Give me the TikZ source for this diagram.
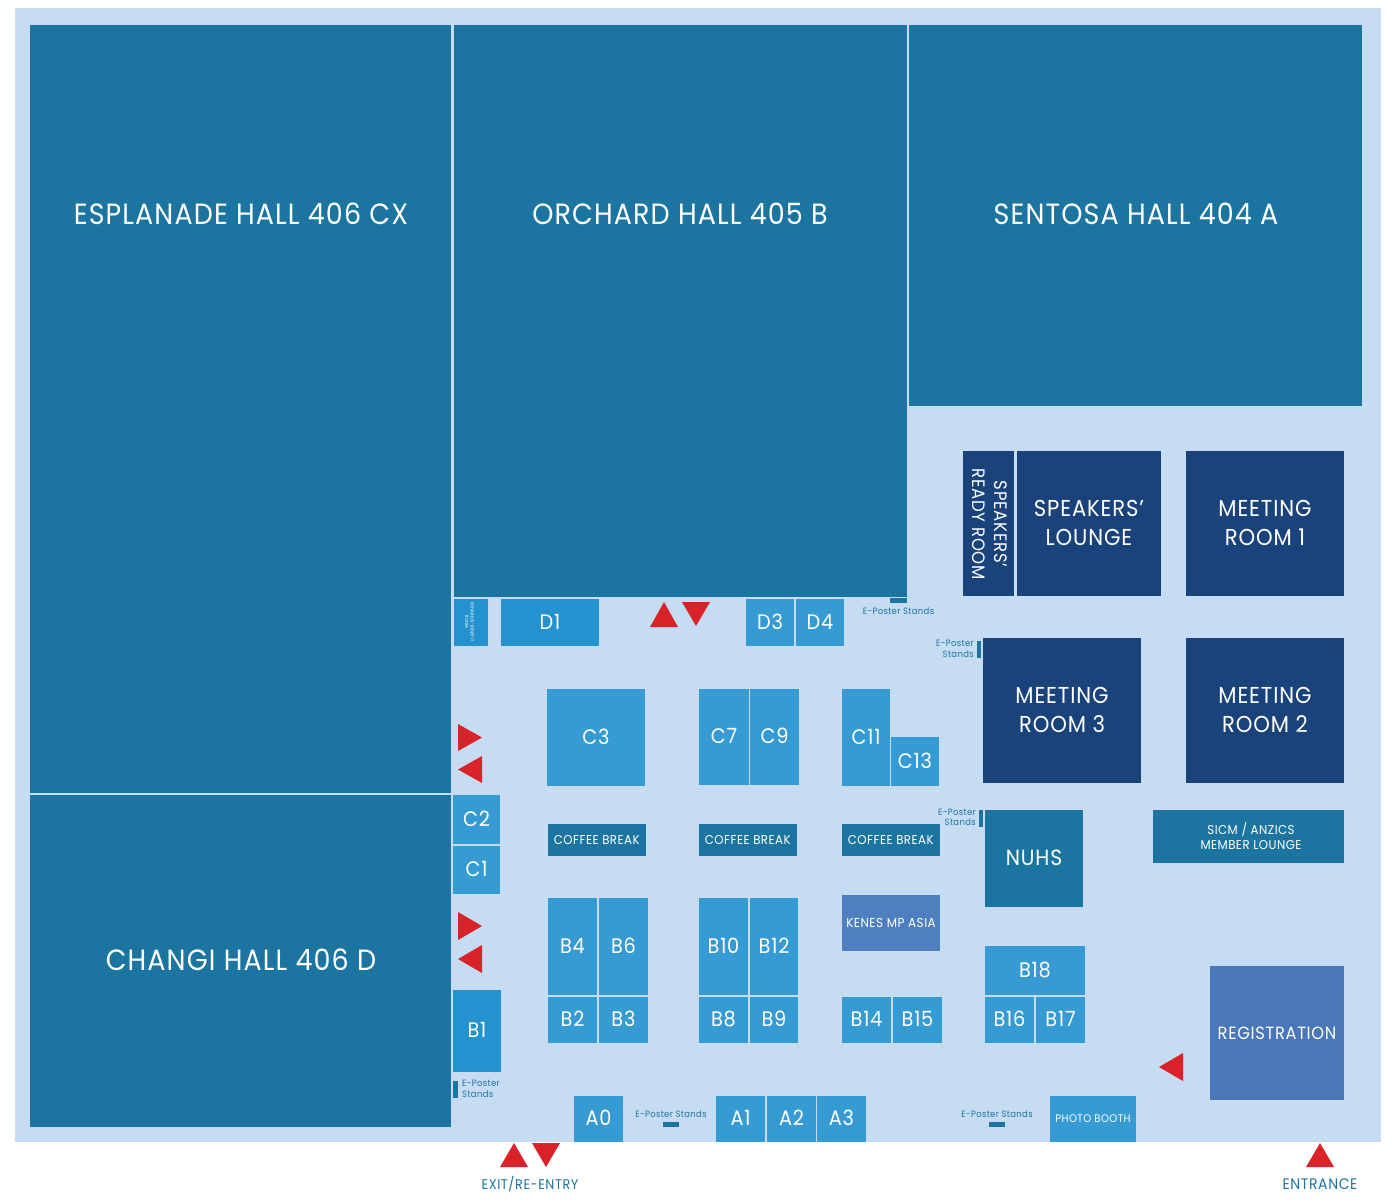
\documentclass[tikz,border=0pt]{standalone}
\usepackage{fontspec}
\setmainfont[FakeStretch=0.92,LetterSpace=3.8]{Poppins}
\definecolor{floorbg}{HTML}{C6DCF2}
\definecolor{hall}{HTML}{1C75A0}
\definecolor{navy}{HTML}{1A437B}
\definecolor{boothA}{HTML}{359BD2}
\definecolor{boothB}{HTML}{2392CE}
\definecolor{regblue}{HTML}{4A76BA}
\definecolor{kenes}{HTML}{4E80C0}
\definecolor{redtri}{HTML}{D9222A}
\newcommand{\fs}[1]{\fontsize{#1}{#1}\selectfont}
% \Rm{name}{x0}{y0}{x1}{y1}{style}{text}
\newcommand{\Rm}[7]{%
  \pgfmathsetmacro{\cxx}{(#2+#4)/2}\pgfmathsetmacro{\cyy}{(#3+#5)/2}%
  \pgfmathsetmacro{\wdd}{#4-#2}\pgfmathsetmacro{\htt}{#5-#3}%
  \node[#6,minimum width=\wdd pt,minimum height=\htt pt] (#1) at (\cxx,\cyy) {#7};}
\newcommand{\Tri}[6]{\fill[redtri] (#1,#2) -- (#3,#4) -- (#5,#6) -- cycle;}
\tikzset{
  room/.style={inner sep=0pt,outer sep=0pt,text=white,align=center},
  hallroom/.style={room,fill=hall},
  navyroom/.style={room,fill=navy,font=\fs{23}},
  boothroom/.style={room,fill=boothA,font=\fs{21},text depth=2pt},
  boothdark/.style={room,fill=boothB,font=\fs{21},text depth=2pt},
  coffee/.style={room,fill=hall,font=\fs{12.8}},
  posterbar/.style={fill=hall},
  postertext/.style={inner sep=0pt,text=hall,font=\fs{9.2},align=center},
  doorlabel/.style={inner sep=0pt,text=hall,font=\fs{14}},
  halltitle/.style={inner sep=0pt,text=white,font=\fs{29.3}},
}
\begin{document}
\begin{tikzpicture}[x=1pt,y=-1pt]
\useasboundingbox (0,0) rectangle (1396,1200);
\fill[white] (0,0) rectangle (1396,1200);
\fill[floorbg] (15,8) rectangle (1381,1142);
% halls
\Rm{esplanade}{30}{25}{451}{793}{hallroom}{}
\Rm{orchard}{454}{25}{907}{597}{hallroom}{}
\Rm{sentosa}{909}{25}{1362}{405.5}{hallroom}{}
\Rm{changi}{30}{795}{451}{1127}{hallroom}{}
\node[halltitle] (t1) at (241,214) {ESPLANADE HALL 406 CX};
\node[halltitle] (t2) at (680,214) {ORCHARD HALL 405 B};
\node[halltitle] (t3) at (1136,214) {SENTOSA HALL 404 A};
\node[halltitle] (t4) at (241,960) {CHANGI HALL 406 D};
% navy rooms
\Rm{ready}{963}{451}{1014}{596}{navyroom}{}
\node[room,rotate=-90,font=\fs{18},text=white,align=center] (readyt) at (990,524) {SPEAKERS’\\[4pt]READY ROOM};
\Rm{lounge}{1017}{451}{1161}{596}{navyroom,text depth=2pt,align=center}{SPEAKERS’\\[6pt]LOUNGE}
\Rm{mr1}{1186}{451}{1344}{596}{navyroom,text depth=2pt}{MEETING\\[6pt]ROOM 1}
\Rm{mr3}{983}{638}{1141}{783}{navyroom,text depth=2pt}{MEETING\\[6pt]ROOM 3}
\Rm{mr2}{1186}{638}{1344}{783}{navyroom,text depth=2pt}{MEETING\\[6pt]ROOM 2}
% teal rooms
\Rm{nuhs}{985}{810}{1083}{907}{hallroom,font=\fs{22},text depth=2pt}{NUHS}
\Rm{sicm}{1153}{810}{1344}{863}{hallroom}{}
\node[room,font=\fs{12.8}] (sicmt) at (1251,836) {SICM / ANZICS\\[3pt]MEMBER LOUNGE};
\Rm{reg}{1210}{966}{1344}{1100}{room,fill=regblue,font=\fs{17.7}}{REGISTRATION}
\Rm{kenes}{842}{895}{940}{951}{room,fill=kenes,font=\fs{13},text depth=0pt}{KENES MP ASIA}
\Rm{cb1}{548}{824}{645.5}{856}{coffee}{COFFEE BREAK}
\Rm{cb2}{699}{824}{796.5}{856}{coffee}{COFFEE BREAK}
\Rm{cb3}{842}{824}{939.5}{856}{coffee}{COFFEE BREAK}
% booths
\Rm{c3}{547}{689}{645}{786}{boothroom}{C3}
\Rm{c7}{699}{689}{749}{785}{boothroom}{C7}
\Rm{c9}{750}{689}{799}{785}{boothroom}{C9}
\Rm{c11}{842}{689}{890}{786}{boothroom}{C11}
\Rm{c13}{891}{737}{939}{786}{boothroom}{C13}
\Rm{c2}{453}{795}{500}{844}{boothroom}{C2}
\Rm{c1}{453}{846}{500}{894}{boothroom}{C1}
\Rm{b1}{453}{990}{501}{1072}{boothdark}{B1}
\Rm{d1}{501}{599}{599}{646}{boothdark}{D1}
\Rm{ben}{454}{599}{488}{646}{boothdark}{}
\node[room,rotate=-90,font=\fs{4.5}] (bent) at (469.5,622) {REHABILIS' BENEFIT\\[1pt]ROOM};
\Rm{d3}{746}{599}{794}{646}{boothroom}{D3}
\Rm{d4}{796}{599}{844}{646}{boothroom}{D4}
\Rm{b4}{548}{898}{597}{995}{boothroom}{B4}
\Rm{b6}{599}{898}{648}{995}{boothroom}{B6}
\Rm{b2}{548}{997}{597}{1043}{boothroom}{B2}
\Rm{b3}{599}{997}{648}{1043}{boothroom}{B3}
\Rm{b10}{699}{898}{748}{995}{boothroom}{B10}
\Rm{b12}{750}{898}{798}{995}{boothroom}{B12}
\Rm{b8}{699}{997}{748}{1043}{boothroom}{B8}
\Rm{b9}{750}{997}{798}{1043}{boothroom}{B9}
\Rm{b14}{842}{997}{891}{1043}{boothroom}{B14}
\Rm{b15}{893}{997}{942}{1043}{boothroom}{B15}
\Rm{b18}{985}{946}{1085}{995}{boothroom}{B18}
\Rm{b16}{985}{997}{1034}{1043}{boothroom}{B16}
\Rm{b17}{1036}{997}{1085}{1043}{boothroom}{B17}
\Rm{a0}{574}{1096}{623}{1142}{boothroom}{A0}
\Rm{a1}{716}{1096}{765}{1142}{boothroom}{A1}
\Rm{a2}{767}{1096}{816}{1142}{boothroom}{A2}
\Rm{a3}{817}{1096}{866}{1142}{boothroom}{A3}
\Rm{photo}{1050}{1096}{1136}{1142}{room,fill=boothA,font=\fs{11}}{PHOTO BOOTH}
% poster stands
\fill[posterbar] (890,598) rectangle (907,603);
\fill[posterbar] (977,641) rectangle (981,658);
\fill[posterbar] (979,810) rectangle (983,827);
\fill[posterbar] (453,1081) rectangle (458,1098);
\fill[posterbar] (663,1122) rectangle (679,1127);
\fill[posterbar] (989,1122) rectangle (1005,1127);
\node[postertext] (p1) at (898.5,611) {E-Poster Stands};
\node[postertext,align=right,anchor=east] (p2) at (974,648.5) {E-Poster\\[2pt]Stands};
\node[postertext,align=right,anchor=east] (p3) at (976,817) {E-Poster\\[1pt]Stands};
\node[postertext,align=left,anchor=west] (p4) at (462,1088.5) {E-Poster\\[2pt]Stands};
\node[postertext] (p5) at (671,1114) {E-Poster Stands};
\node[postertext] (p6) at (997,1114) {E-Poster Stands};
% arrows
\Tri{650}{627}{678}{627}{664}{602}
\Tri{682}{602}{710}{602}{696}{626}
\Tri{458}{724}{458}{751}{482}{737.5}
\Tri{482}{756}{482}{783}{458}{769.5}
\Tri{458}{912}{458}{940}{482}{926}
\Tri{482}{945}{482}{973}{458}{959}
\Tri{1183}{1053}{1183}{1081}{1159}{1067}
\Tri{500}{1167}{528}{1167}{514}{1143}
\Tri{532}{1143}{560}{1143}{546}{1167}
\Tri{1306}{1167}{1334}{1167}{1320}{1143}
\node[doorlabel] (exit) at (530,1184) {EXIT/RE-ENTRY};
\node[doorlabel,font=\fs{15.3}] (entrance) at (1320,1184) {ENTRANCE};
\end{tikzpicture}
\end{document}
